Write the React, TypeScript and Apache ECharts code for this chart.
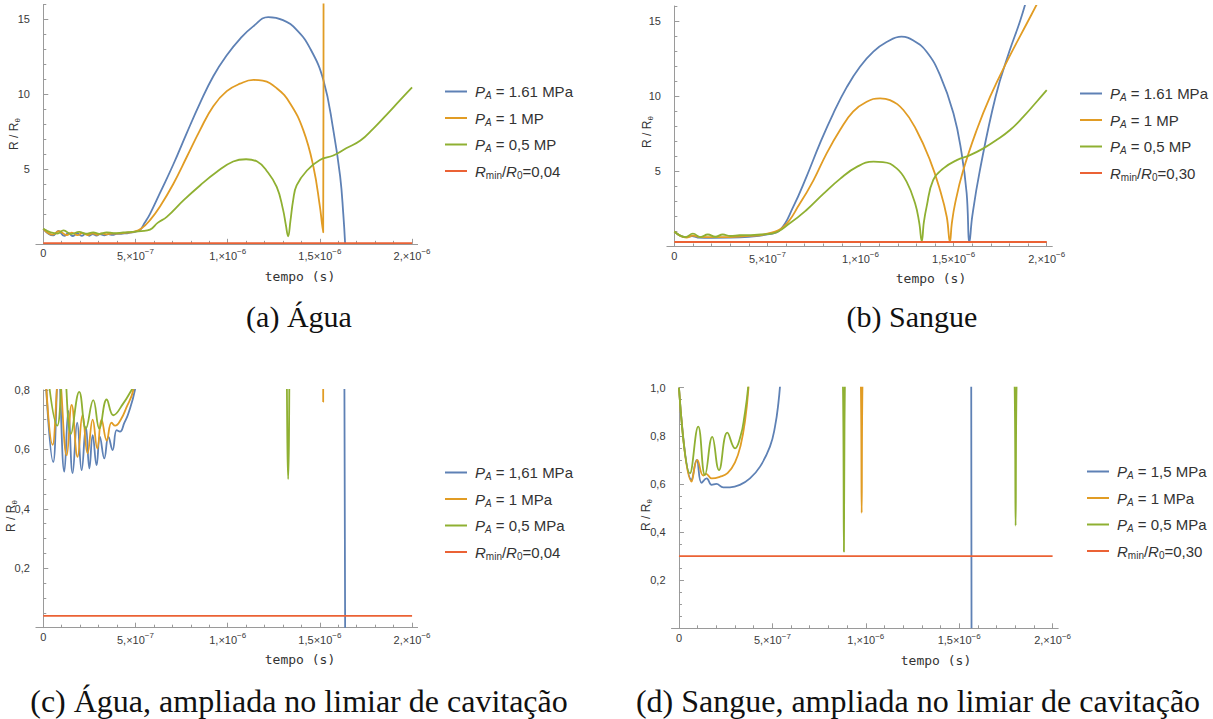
import React, { useEffect, useRef } from "react";
import * as echarts from "echarts";

// time in units of 1e-7 s, value = R/R0
const aguaP161: number[][] = [
  [0, 1.0], [0.54, 0.558], [0.82, 0.86], [1.14, 0.525], [1.36, 0.73], [1.59, 0.52], [1.84, 0.69],
  [2.08, 0.53], [2.31, 0.676], [2.5, 0.536], [2.68, 0.648], [2.89, 0.547], [3.07, 0.643], [3.31, 0.57],
  [3.53, 0.643], [3.76, 0.598], [3.98, 0.665], [4.16, 0.66], [4.4, 0.69], [4.61, 0.72], [4.97, 0.8],
  [5.24, 0.92], [5.5, 1.4], [5.79, 2.0], [6.33, 3.4], [7.05, 5.3], [7.78, 7.4], [8.5, 9.4], [9.22, 11.2],
  [9.95, 12.6], [10.67, 13.7], [11.4, 14.55], [12.2, 15.15], [13.0, 14.95], [13.74, 14.3], [14.47, 13.06],
  [15.19, 10.95], [15.73, 7.6], [16.1, 4.5], [16.27, 2.0], [16.37, 0],
];
const aguaP1: number[][] = [
  [0, 1.0], [0.51, 0.615], [0.85, 0.85], [1.27, 0.58], [1.54, 0.75], [1.86, 0.575], [2.13, 0.716],
  [2.4, 0.587], [2.68, 0.7], [2.93, 0.603], [3.16, 0.7], [3.44, 0.63], [3.7, 0.69], [3.9, 0.68],
  [4.2, 0.7], [4.5, 0.74], [4.88, 0.8], [5.3, 1.0], [5.8, 1.6], [6.33, 2.5], [7.05, 4.0], [7.78, 5.8],
  [8.5, 7.6], [9.22, 9.2], [9.95, 10.2], [10.67, 10.7], [11.4, 10.95], [11.9, 10.9], [12.66, 10.4],
  [13.38, 9.4], [14.1, 7.6], [14.65, 5.15], [15.0, 2.5], [15.12, 1.3], [15.18, 0.76], [15.2, 20],
];
const aguaP05: number[][] = [
  [0, 1.0], [0.76, 0.68], [1.1, 0.9], [1.5, 0.652], [1.95, 0.794], [2.31, 0.67], [2.71, 0.766],
  [3.04, 0.67], [3.44, 0.768], [3.8, 0.715], [4.34, 0.755], [4.79, 0.8], [5.3, 0.85], [5.79, 0.95],
  [6.2, 1.4], [6.7, 1.8], [7.6, 2.9], [8.5, 3.9], [9.4, 4.8], [10.3, 5.5], [11.0, 5.65], [11.6, 5.5],
  [12.1, 4.9], [12.66, 3.8], [13.0, 2.3], [13.15, 1.3], [13.28, 0.5], [13.4, 1.5], [13.55, 2.9],
  [13.74, 3.9], [14.3, 4.9], [15.0, 5.6], [15.73, 5.9], [16.45, 6.4], [17.2, 6.9], [17.9, 7.7],
  [18.6, 8.6], [19.35, 9.6], [20, 10.45],
];
const aguaRmin: number[][] = [[0, 0.04], [20, 0.04]];

const sangueP161: number[][] = [
  [0, 1.0], [0.6, 0.62], [0.95, 0.7], [1.25, 0.6], [2.0, 0.58], [3.0, 0.59], [4.0, 0.65], [5.0, 0.8],
  [5.68, 1.1], [6.39, 2.65], [7.1, 4.65], [7.82, 6.86], [8.54, 8.86], [9.26, 10.6], [9.97, 11.96],
  [10.69, 12.96], [11.4, 13.6], [12.2, 13.96], [12.84, 13.7], [13.55, 12.96], [14.27, 11.4],
  [14.99, 8.86], [15.43, 6.2], [15.7, 3.54], [15.85, 0.3], [16.0, 2.0], [16.4, 5.0], [17.26, 10.0],
  [18.0, 13.0], [18.57, 15.0], [19.0, 16.8],
];
const sangueP1: number[][] = [
  [0, 1.0], [0.65, 0.6], [1.0, 0.72], [1.4, 0.62], [2.0, 0.62], [3.0, 0.63], [4.0, 0.7], [5.0, 0.85],
  [5.86, 1.3], [6.75, 2.87], [7.47, 4.4], [8.18, 6.2], [8.9, 7.75], [9.6, 8.97], [10.33, 9.63],
  [11.05, 9.86], [11.58, 9.74], [12.3, 9.08], [13.0, 7.75], [13.73, 5.75], [14.27, 3.76], [14.63, 1.98],
  [14.8, 0.3], [14.9, 1.5], [15.08, 2.87], [15.5, 5.0], [16.24, 7.75], [16.96, 9.97], [17.9, 12.4],
  [19.0, 15.0], [19.8, 16.9],
];
const sangueP05: number[][] = [
  [0, 1.0], [0.6, 0.63], [1.0, 0.85], [1.4, 0.63], [1.8, 0.8], [2.2, 0.65], [2.6, 0.8], [3.0, 0.7],
  [3.5, 0.75], [4.3, 0.78], [5.3, 0.88], [6.2, 1.54], [7.1, 2.43], [8.0, 3.5], [8.9, 4.5], [9.8, 5.3],
  [10.7, 5.64], [11.2, 5.62], [11.94, 5.2], [12.48, 4.3], [12.93, 2.87], [13.15, 1.6], [13.29, 0.35],
  [13.4, 1.6], [13.55, 2.65], [13.9, 4.42], [14.45, 5.2], [15.17, 5.75], [15.88, 6.08], [16.6, 6.53],
  [17.3, 7.08], [18.03, 7.75], [18.75, 8.64], [19.46, 9.63], [20, 10.4],
];
const sangueRmin: number[][] = [[0, 0.3], [20, 0.3]];

const sangueZoomP15: number[][] = [
  [0, 1.0], [0.68, 0.616], [0.95, 0.7], [1.21, 0.605], [1.48, 0.623], [1.75, 0.596], [2.0, 0.6],
  [2.37, 0.586], [2.73, 0.586], [3.26, 0.596], [3.8, 0.623], [4.34, 0.672], [4.87, 0.755], [5.14, 0.838],
  [5.32, 0.935], [5.45, 1.05], [6.0, 1.8], [8.0, 6.0], [11.0, 13.0], [14.0, 11.0], [15.3, 5.0],
  [15.62, 2.0], [15.66, 0],
];
const sangueZoomP1: number[][] = [
  [0, 1.0], [0.68, 0.61], [0.98, 0.7], [1.3, 0.635], [1.45, 0.642], [1.75, 0.623], [2.2, 0.63],
  [2.6, 0.645], [3.0, 0.69], [3.3, 0.76], [3.55, 0.87], [3.72, 1.0], [4.3, 1.6], [6.0, 3.0], [8.0, 3.5],
  [9.5, 1.8], [9.74, 1.0], [9.78, 0.48], [9.82, 1.0], [10.1, 1.8], [14.0, 6.0], [20, 12.0],
];
const sangueZoomP05: number[][] = [
  [0, 1.0], [0.59, 0.644], [1.03, 0.838], [1.39, 0.637], [1.78, 0.796], [2.14, 0.658], [2.59, 0.813],
  [3.0, 0.748], [3.3, 0.8], [3.5, 0.88], [3.7, 1.0], [4.2, 1.5], [6.0, 2.6], [8.4, 1.8], [8.78, 1.0],
  [8.83, 0.318], [8.88, 1.0], [9.3, 1.8], [12.0, 3.5], [16.0, 3.0], [17.7, 1.8], [17.97, 1.0],
  [18.02, 0.427], [18.07, 1.0], [18.4, 1.8], [20, 3.0],
];
const sangueZoomRmin: number[][] = [[0, 0.3], [20, 0.3]];

// ticks & labels
const xMajorTicks = [0, 5, 10, 15, 20];
const xMajorLabels = ["0", "5,×10{p|−7}", "1,×10{p|−6}", "1,5×10{p|−6}", "2,×10{p|−6}"];
const xMinorTicks = [1, 2, 3, 4, 6, 7, 8, 9, 11, 12, 13, 14, 16, 17, 18, 19];
const yFullMajor = [5, 10, 15];
const yFullLabels = ["5", "10", "15"];
const yFullMinor = [1, 2, 3, 4, 6, 7, 8, 9, 11, 12, 13, 14, 16];
const yAguaZoomMajor = [0.2, 0.4, 0.6, 0.8];
const yAguaZoomLabels = ["0,2", "0,4", "0,6", "0,8"];
const yAguaZoomMinor = [0.05, 0.1, 0.15, 0.25, 0.3, 0.35, 0.45, 0.5, 0.55, 0.65, 0.7, 0.75];
const ySangueZoomMajor = [0.2, 0.4, 0.6, 0.8, 1.0];
const ySangueZoomLabels = ["0,2", "0,4", "0,6", "0,8", "1,0"];
const ySangueZoomMinor = [0.05, 0.1, 0.15, 0.25, 0.3, 0.35, 0.45, 0.5, 0.55, 0.65, 0.7, 0.75, 0.85, 0.9, 0.95];

const legendA = ["{i|P}{s|A}{n| = 1.61 MPa}", "{i|P}{s|A}{n| = 1 MP}", "{i|P}{s|A}{n| = 0,5 MP}", "{i|R}{r|min}{n|/}{i|R}{r|0}{n|=0,04}"];
const legendB = ["{i|P}{s|A}{n| = 1.61 MPa}", "{i|P}{s|A}{n| = 1 MP}", "{i|P}{s|A}{n| = 0,5 MP}", "{i|R}{r|min}{n|/}{i|R}{r|0}{n|=0,30}"];
const legendC = ["{i|P}{s|A}{n| = 1,61 MPa}", "{i|P}{s|A}{n| = 1 MPa}", "{i|P}{s|A}{n| = 0,5 MPa}", "{i|R}{r|min}{n|/}{i|R}{r|0}{n|=0,04}"];
const legendD = ["{i|P}{s|A}{n| = 1,5 MPa}", "{i|P}{s|A}{n| = 1 MPa}", "{i|P}{s|A}{n| = 0,5 MPa}", "{i|R}{r|min}{n|/}{i|R}{r|0}{n|=0,30}"];

const captions = [
  "(a) Água",
  "(b) Sangue",
  "(c) Água, ampliada no limiar de cavitação",
  "(d) Sangue, ampliada no limiar de cavitação",
];

const colors = ["#5E81B5", "#E19C24", "#8FB032", "#EB6235"];

const SANS = "Liberation Sans, Arial, sans-serif";

const panels = [
  {
    grid: { left: 35.9, top: 4.4, width: 381.7, height: 239.4 },
    yMax: 16, yMajor: yFullMajor, yLabels: yFullLabels, yMinor: yFullMinor,
    data: [aguaP161, aguaP1, aguaP05, aguaRmin], legend: legendA,
    legendPos: { left: 445, top: 84 },
    yName: [14, 134], xName: [300, 276], caption: [299, 316], capSize: 30,
  },
  {
    grid: { left: 666.9, top: 6.0, width: 385.4, height: 240.5 },
    yMax: 16, yMajor: yFullMajor, yLabels: yFullLabels, yMinor: yFullMinor,
    data: [sangueP161, sangueP1, sangueP05, sangueRmin], legend: legendB,
    legendPos: { left: 1080, top: 86 },
    yName: [647, 132], xName: [931, 278], caption: [912, 316], capSize: 30,
  },
  {
    grid: { left: 35.9, top: 390, width: 381.7, height: 237.7 },
    yMax: 0.8, yMajor: yAguaZoomMajor, yLabels: yAguaZoomLabels, yMinor: yAguaZoomMinor,
    data: [aguaP161, aguaP1, aguaP05, aguaRmin], legend: legendC,
    legendPos: { left: 445, top: 465 },
    yName: [11, 516], xName: [300, 659], caption: [299, 701], capSize: 32,
  },
  {
    grid: { left: 671.5, top: 387.7, width: 386.7, height: 240.6 },
    yMax: 1.0, yMajor: ySangueZoomMajor, yLabels: ySangueZoomLabels, yMinor: ySangueZoomMinor,
    data: [sangueZoomP15, sangueZoomP1, sangueZoomP05, sangueZoomRmin], legend: legendD,
    legendPos: { left: 1087, top: 464 },
    yName: [646, 515], xName: [936, 660], caption: [918, 701], capSize: 32,
  },
];

const AXIS_COLOR = "#9a9a9a";
const LABEL_COLOR = "#3a3a3a";

function buildOption() {
  const grids: any[] = [];
  const xAxes: any[] = [];
  const yAxes: any[] = [];
  const series: any[] = [];
  const legends: any[] = [];
  const graphics: any[] = [];

  panels.forEach((p, k) => {
    grids.push({ ...p.grid });
    const xBase = { type: "value", gridIndex: k, min: -0.4, max: 20.3, position: "bottom", splitLine: { show: false } };
    xAxes.push({
      ...xBase,
      axisLine: { show: true, onZero: true, lineStyle: { color: AXIS_COLOR, width: 1 } },
      axisTick: { show: true, inside: true, length: 5, customValues: xMajorTicks, lineStyle: { color: AXIS_COLOR } },
      axisLabel: {
        show: true, customValues: xMajorTicks, margin: 4, color: LABEL_COLOR, fontSize: 11, fontFamily: SANS,
        formatter: (v: number) => xMajorLabels[xMajorTicks.indexOf(Math.round(v))] ?? "",
        rich: {
          p: { fontSize: 8, fontFamily: SANS, color: LABEL_COLOR, padding: [0, 0, 8, 0], verticalAlign: "middle" },
        },
      },
    });
    xAxes.push({
      ...xBase,
      axisLine: { show: false, onZero: true },
      axisTick: { show: true, inside: true, length: 3, customValues: xMinorTicks, lineStyle: { color: AXIS_COLOR } },
      axisLabel: { show: false },
    });
    const yBase = { type: "value", gridIndex: k, min: 0, max: p.yMax, position: "left", splitLine: { show: false } };
    yAxes.push({
      ...yBase,
      axisLine: { show: true, onZero: true, lineStyle: { color: AXIS_COLOR, width: 1 } },
      axisTick: { show: true, inside: true, length: 5, customValues: p.yMajor, lineStyle: { color: AXIS_COLOR } },
      axisLabel: {
        show: true, customValues: p.yMajor, margin: 6, color: LABEL_COLOR, fontSize: 11, fontFamily: SANS,
        formatter: (v: number) => {
          const i = p.yMajor.findIndex((m) => Math.abs(m - v) < 1e-9);
          return i >= 0 ? p.yLabels[i] : "";
        },
      },
    });
    yAxes.push({
      ...yBase,
      axisLine: { show: false, onZero: true },
      axisTick: { show: true, inside: true, length: 3, customValues: p.yMinor, lineStyle: { color: AXIS_COLOR } },
      axisLabel: { show: false },
    });

    const names: string[] = [];
    p.data.forEach((d, j) => {
      const name = `${k}-${j}`;
      names.push(name);
      series.push({
        type: "line",
        name,
        xAxisIndex: 2 * k,
        yAxisIndex: 2 * k,
        data: d,
        symbol: "none",
        showSymbol: false,
        smooth: j === 3 ? false : 0.45,
        clip: true,
        lineStyle: { color: colors[j], width: 1.8 },
        itemStyle: { color: colors[j] },
        z: 2 + j,
      });
    });
    legends.push({
      data: names,
      orient: "vertical",
      left: p.legendPos.left,
      top: p.legendPos.top,
      padding: 0,
      icon: "rect",
      itemWidth: 22,
      itemHeight: 2,
      itemGap: 10,
      selectedMode: false,
      formatter: (name: string) => p.legend[Number(name.split("-")[1])],
      textStyle: {
        fontSize: 15, fontFamily: SANS, color: "#333", padding: [0, 0, 0, 3],
        rich: {
          n: { fontSize: 15, fontFamily: SANS, color: "#333", verticalAlign: "middle" },
          i: { fontSize: 15, fontFamily: SANS, fontStyle: "italic", color: "#333", verticalAlign: "middle" },
          s: { fontSize: 10, fontFamily: SANS, fontStyle: "italic", color: "#333", padding: [8, 0, 0, 0], verticalAlign: "middle" },
          r: { fontSize: 10, fontFamily: SANS, color: "#333", padding: [8, 0, 0, 0], verticalAlign: "middle" },
        },
      },
    });

    graphics.push({
      type: "text",
      x: p.yName[0], y: p.yName[1], rotation: Math.PI / 2,
      style: {
        text: "{n|R / R}{s|θ}", align: "center", verticalAlign: "middle",
        rich: {
          n: { fontSize: 12, fontFamily: SANS, fill: "#333", verticalAlign: "middle" },
          s: { fontSize: 8, fontFamily: SANS, fill: "#333", padding: [6, 0, 0, 0], verticalAlign: "middle" },
        },
      },
    });
    graphics.push({
      type: "text",
      x: p.xName[0], y: p.xName[1],
      style: { text: "tempo (s)", align: "center", verticalAlign: "middle", fontSize: 13, fontFamily: "DejaVu Sans Mono, monospace", fill: "#333" },
    });
    graphics.push({
      type: "text",
      x: p.caption[0], y: p.caption[1],
      style: { text: captions[k], align: "center", verticalAlign: "middle", fontSize: p.capSize, fontFamily: "Liberation Serif, Times New Roman, serif", fill: "#111" },
    });
  });

  return {
    animation: false,
    backgroundColor: "#ffffff",
    grid: grids,
    xAxis: xAxes,
    yAxis: yAxes,
    series,
    legend: legends,
    graphic: graphics,
  };
}

export default function App() {
  const ref = useRef<HTMLDivElement>(null);
  useEffect(() => {
    if (!ref.current) return;
    const chart = echarts.init(ref.current, undefined, { renderer: "svg" });
    chart.setOption(buildOption() as any);
    return () => chart.dispose();
  }, []);
  return <div ref={ref} style={{ position: "absolute", left: 0, top: 0, width: 1213, height: 719, background: "#fff" }} />;
}
